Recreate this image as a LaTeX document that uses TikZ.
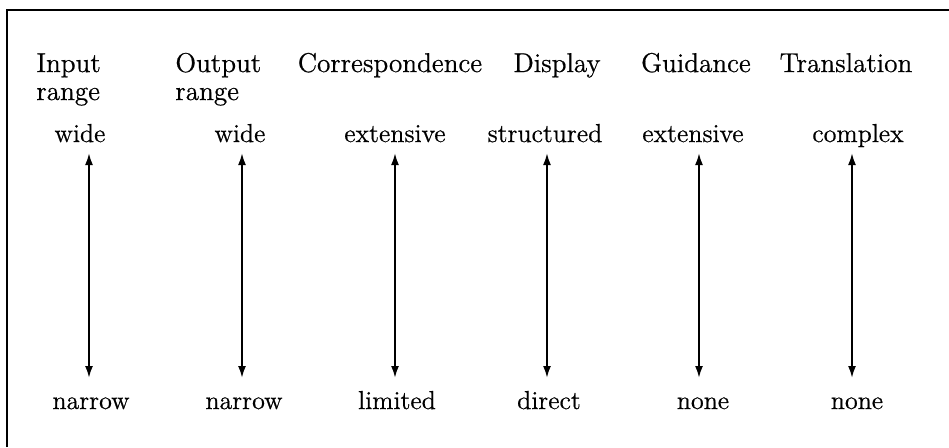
\documentclass[tikz,border=0pt]{standalone}
\usepackage{fontspec}
\setmainfont{Latin Modern Roman}[FakeBold=0.6]
\usetikzlibrary{arrows.meta}
\begin{document}
\begin{tikzpicture}[x=0.5pt,y=-0.5pt,
  hdr/.style={inner sep=0pt,anchor=base west,font=\fontsize{13.6}{16}\selectfont},
  hdrc/.style={inner sep=0pt,anchor=base,font=\fontsize{13.6}{16}\selectfont},
  val/.style={inner sep=0pt,anchor=base,font=\fontsize{13}{16}\selectfont},
  arr/.style={line width=1pt,{Latex[length=6pt,width=4pt]}-{Latex[length=6pt,width=4pt]}},
  frame/.style={line width=1.2pt}]
\useasboundingbox (0,0) rectangle (949,447);
% frame (top and left edges)
\coordinate (fa) at (7,447);
\coordinate (fb) at (7,10);
\coordinate (fc) at (949,10);
\draw[frame] (fa) -- (fb) -- (fc);
% headers
\node[hdr] (h1a) at (36,72) {Input};
\node[hdr] (h1b) at (36,100) {range};
\node[hdr] (h2a) at (175,72) {Output};
\node[hdr] (h2b) at (175,100) {range};
\node[hdrc] (h3) at (390,72) {Correspondence};
\node[hdrc] (h4) at (557,72) {Display};
\node[hdrc] (h5) at (696,72) {Guidance};
\node[hdrc] (h6) at (846,72) {Translation};
% top values
\node[val] (u1) at (80,142) {wide};
\node[val] (u2) at (240,142) {wide};
\node[val] (u3) at (395,142) {extensive};
\node[val] (u4) at (545,142) {structured};
\node[val] (u5) at (693,142) {extensive};
\node[val] (u6) at (858,142) {complex};
% bottom values
\node[val] (d1) at (91,409) {narrow};
\node[val] (d2) at (244,409) {narrow};
\node[val] (d3) at (397,409) {limited};
\node[val] (d4) at (549,409) {direct};
\node[val] (d5) at (703,409) {none};
\node[val] (d6) at (857,409) {none};
% arrow ends
\foreach \i/\x in {1/89,2/242,3/395,4/547,5/699,6/852}{
  \coordinate (t\i) at (\x,153);
  \coordinate (b\i) at (\x,378);
  \draw[arr] (t\i) -- (b\i);
}
\end{tikzpicture}
\end{document}
